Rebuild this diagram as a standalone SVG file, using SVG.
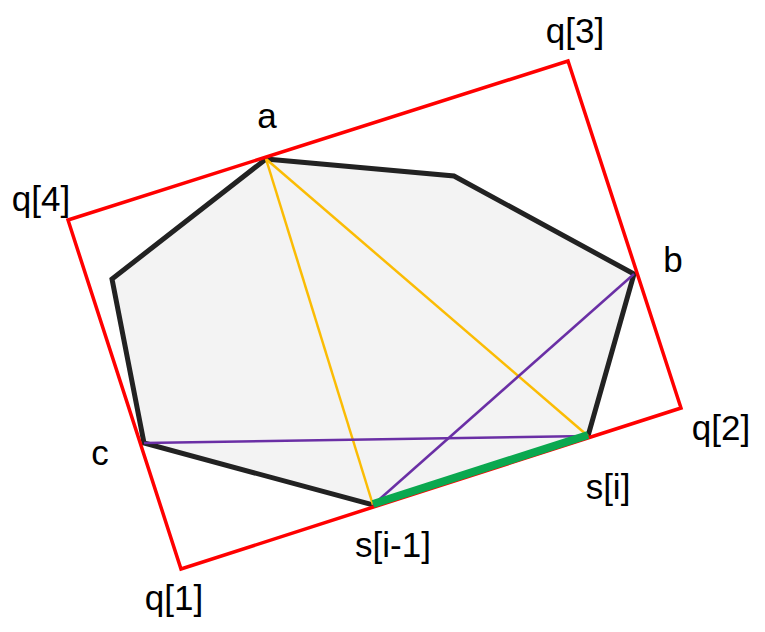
<svg xmlns="http://www.w3.org/2000/svg" width="765" height="632" viewBox="0 0 765 632">
<style>
.lbl{font-family:"Liberation Sans",Arial,sans-serif;font-size:35px;fill:#000;text-anchor:middle}
.poly{fill:#f3f3f3;stroke:#222;stroke-width:5;stroke-linejoin:miter}
.rect{fill:none;stroke:#ff0000;stroke-width:3.5}
.yel{stroke:#fbbc04;stroke-width:2.5}
.pur{stroke:#6a2fa5;stroke-width:2.5}
.grn{stroke:#0aa84f;stroke-width:8}
</style>
<rect width="765" height="632" fill="#fff"/>
<g id="hull">
<polygon class="poly" points="266,159 454,176 634,274 588,436 373,505 144,443 112,279"/>
</g>
<g id="connectors">
<line class="yel" x1="266" y1="159" x2="373" y2="505"/>
<line class="yel" x1="266" y1="159" x2="588" y2="436"/>
<line class="pur" x1="144" y1="443" x2="588" y2="436"/>
<line class="pur" x1="373" y1="505" x2="634" y2="274"/>
</g>
<g id="rectangle">
<polygon class="rect" points="68,220 568,61 681,408 181,569"/>
</g>
<g id="edge">
<line class="grn" x1="373" y1="504" x2="588" y2="435"/>
</g>
<g id="labels">
<text class="lbl" x="267" y="128">a</text>
<text class="lbl" x="575" y="43">q[3]</text>
<text class="lbl" x="41" y="211">q[4]</text>
<text class="lbl" x="673" y="272">b</text>
<text class="lbl" x="721" y="440">q[2]</text>
<text class="lbl" x="100" y="465">c</text>
<text class="lbl" x="608" y="499">s[i]</text>
<text class="lbl" x="393" y="557">s[i-1]</text>
<text class="lbl" x="174" y="610">q[1]</text>
</g>
</svg>
